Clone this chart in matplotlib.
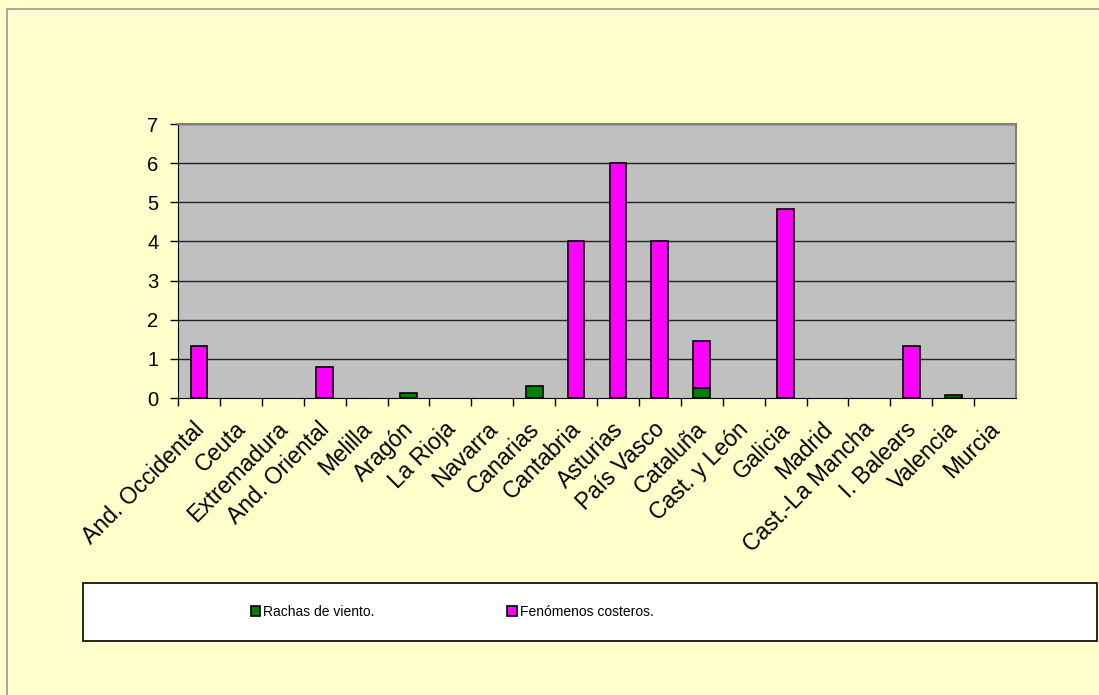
import numpy as np
import matplotlib
matplotlib.use("Agg")
import matplotlib.pyplot as plt
from matplotlib.patches import Rectangle

plt.rcParams['font.family'] = ['Liberation Sans', 'DejaVu Sans']

regiones = ["And. Occidental", "Ceuta", "Extremadura", "And. Oriental", "Melilla",
            "Aragón", "La Rioja", "Navarra", "Canarias", "Cantabria", "Asturias",
            "País Vasco", "Cataluña", "Cast. y León", "Galicia", "Madrid",
            "Cast.-La Mancha", "I. Balears", "Valencia", "Murcia"]
rachas = [0, 0, 0, 0, 0, 0.12, 0, 0, 0.31, 0, 0, 0, 0.25, 0, 0, 0, 0, 0, 0.08, 0]
costeros = [1.33, 0, 0, 0.8, 0, 0, 0, 0, 0, 4, 6, 4, 1.2, 0, 4.83, 0, 0, 1.33, 0, 0]

W, H = 1099, 695
fig = plt.figure(figsize=(W / 100, H / 100), dpi=100)
fig.patch.set_facecolor("#FFFFCC")
# outer chart border (cropped on right/bottom)
fig.patches.append(Rectangle((7 / W, -0.1), 1.2, 1 - 9 / H + 0.1, transform=fig.transFigure,
                             facecolor="none", edgecolor="#999999", lw=1.2))

ax = fig.add_axes([178 / W, (H - 398) / H, (1016 - 178) / W, (398 - 124) / H])
ax.set_facecolor("#C0C0C0")
x = np.arange(len(regiones))
r = np.array(rachas)
c = np.array(costeros)
mr = r > 0
mc = c > 0
b1 = ax.bar(x[mr], r[mr], width=0.4, color="#008000", edgecolor="black", lw=1.2, zorder=3)
b2 = ax.bar(x[mc], c[mc], width=0.4, bottom=r[mc], color="#FF00FF", edgecolor="black", lw=1.2, zorder=3)

ax.set_xlim(-0.5, len(regiones) - 0.5)
ax.set_ylim(0, 7)
ax.set_yticks(range(8))
ax.set_yticklabels([str(i) for i in range(8)], fontsize=14.5)
# category boundaries as tick marks, labels on (slightly left-shifted) minor ticks
ax.set_xticks(x - 0.5, minor=False)
ax.set_xticklabels([])
ax.set_xticks(x - 0.16, minor=True)
ax.set_xticklabels(regiones, minor=True, rotation=45, ha="right", rotation_mode="anchor", fontsize=16.5)
ax.tick_params(axis="x", which="minor", length=0, pad=14)
ax.tick_params(axis="x", which="major", length=6, width=1)
ax.tick_params(axis="y", length=6, width=1, pad=8)
for yv in range(1, 8):
    ax.axhline(yv, color="#222222", lw=1, zorder=1)
for s in ["top", "right"]:
    ax.spines[s].set_color("#808080")
    ax.spines[s].set_linewidth(1.5)
ax.spines["left"].set_color("black")
ax.spines["bottom"].set_color("black")

# legend box
fig.patches.append(Rectangle((83 / W, (H - 641) / H), (1097 - 83) / W, (641 - 583) / H,
                             transform=fig.transFigure, facecolor="white", edgecolor="black", lw=1.2))
fig.legend([b1, b2], ["Rachas de viento.", "Fenómenos costeros."], ncol=2,
           loc="center left", bbox_to_anchor=(238 / W, (H - 612) / H), frameon=False,
           fontsize=10, handlelength=0.7, handleheight=0.7, handletextpad=0.2,
           columnspacing=9.55)

fig.savefig("out.png", dpi=100, facecolor=fig.get_facecolor())
